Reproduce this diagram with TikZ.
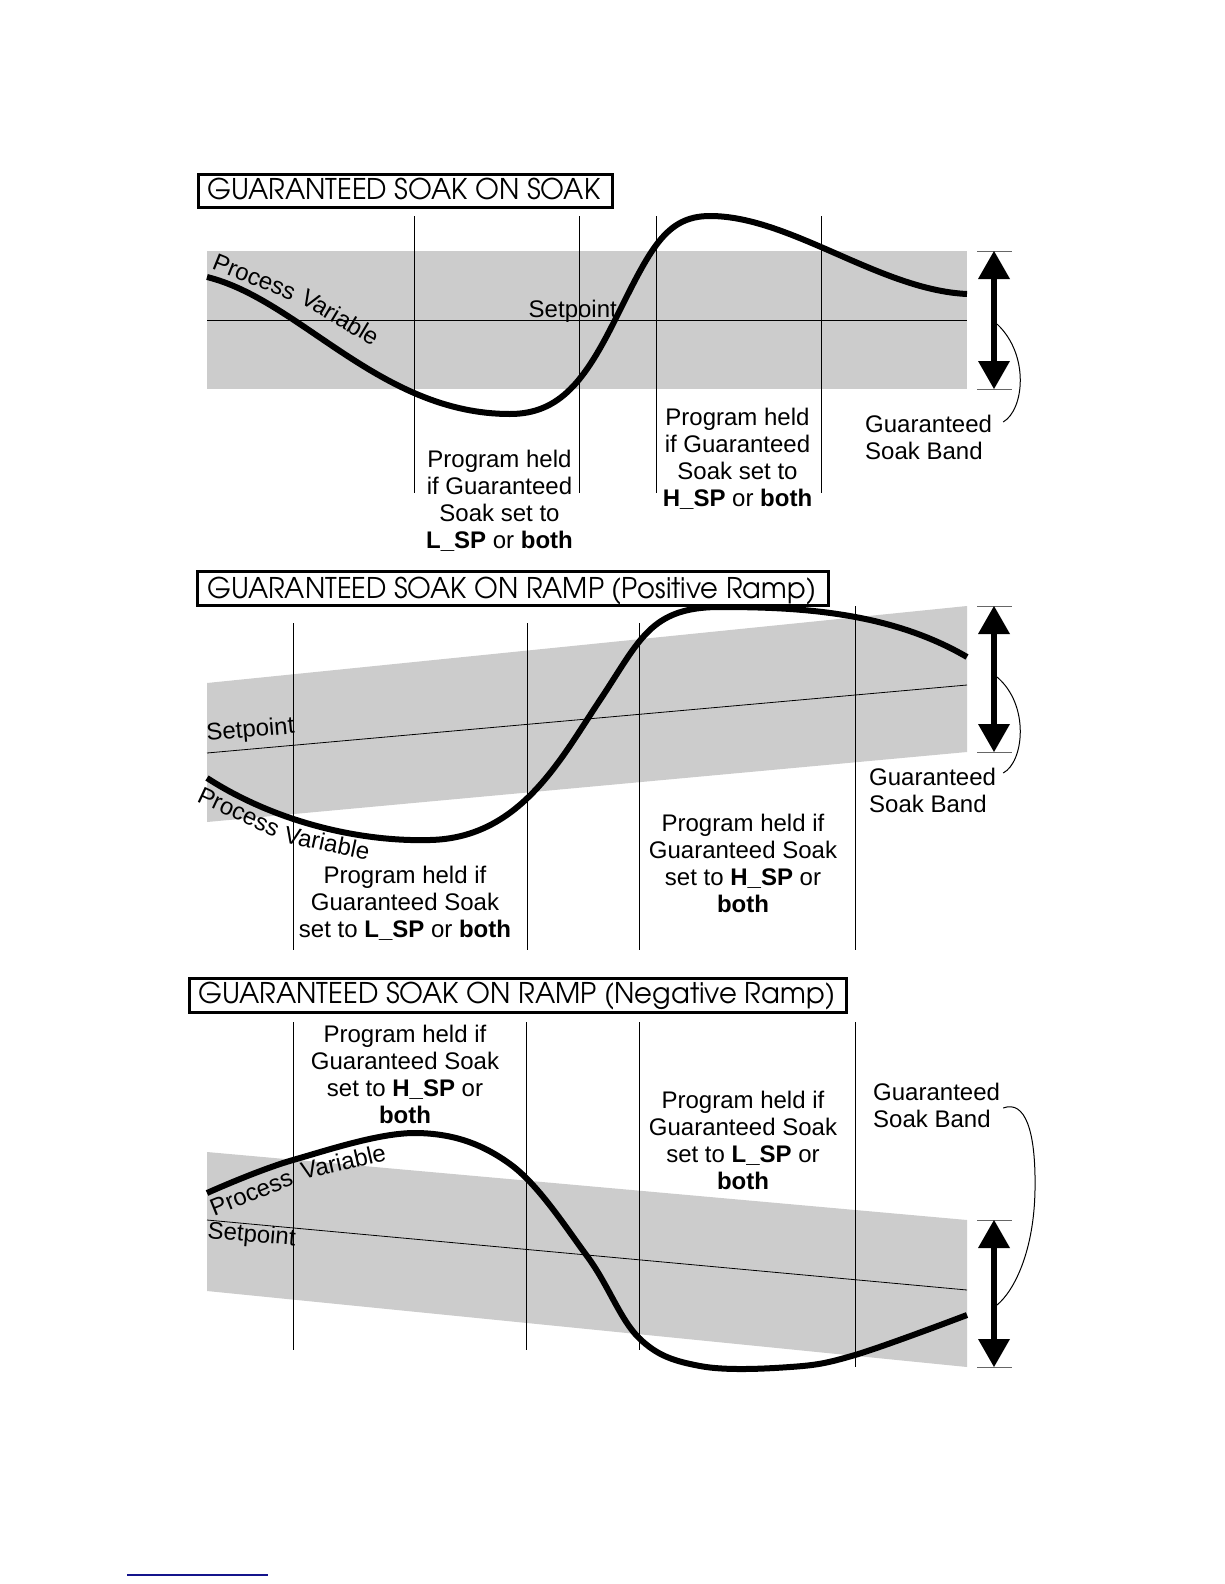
\documentclass[tikz,border=0pt]{standalone}
\usepackage{fontspec}
\usepackage{graphicx}
\setmainfont{Liberation Sans}
\newfontfamily\titlefont{texgyreadventor-regular.otf}
\usetikzlibrary{arrows.meta}
\definecolor{bandgray}{RGB}{204,204,204}
\definecolor{navyline}{RGB}{20,20,140}
\newcommand{\ttltext}[2]{\resizebox{#1}{\height}{\titlefont\fontsize{28.5}{30}\selectfont #2}}
\begin{document}
\begin{tikzpicture}[x=1pt,y=-1pt,
  band/.style={fill=bandgray, draw=none},
  spline/.style={line width=0.8pt},
  vline/.style={line width=0.8pt},
  pv/.style={line width=6pt},
  titlebox/.style={draw, line width=3pt},
  ttl/.style={inner sep=0pt, anchor=base west},
  lbl/.style={font=\fontsize{24}{27}\selectfont, inner sep=0pt, align=center, anchor=north},
  gsb/.style={font=\fontsize{24}{27}\selectfont, inner sep=0pt, align=left, anchor=north west},
  pvlbl/.style={font=\fontsize{24}{27}\selectfont, inner sep=0pt, anchor=base west},
  bandarrow/.style={line width=6pt, {Triangle[width=32pt,length=28pt,line width=0pt]}-{Triangle[width=32pt,length=28pt,line width=0pt]}},
  tickline/.style={line width=0.6pt, draw=black!60},
  leader/.style={line width=1pt},
]
\fill[white] (0,0) rectangle (1224,1584);
\useasboundingbox (0,0) rectangle (1224,1584);

% ================= Panel 1 =================
\fill[band] (207,251) rectangle (967,389);
\draw[spline] (207,320) -- (967,320);
\foreach \xx in {414,579,656,821} \draw[vline] (\xx,216) -- (\xx,493);
\draw[pv] (207,277) .. controls (300,300) and (380,414) .. (510,414)
  .. controls (560,414) and (585,380) .. (615,320)
  .. controls (650,250) and (665,216) .. (710,216)
  .. controls (790,216) and (880,290) .. (967,294);
\draw[titlebox] (198.5,174.5) rectangle (612.5,207.5);
\node[ttl] (t1) at (207,199) {\ttltext{393pt}{GUARANTEED SOAK ON SOAK}};
\node[pvlbl, rotate=-22] (pv1a) at (211,268) {Process};
\node[pvlbl, rotate=-31] (pv1b) at (299,302) {Variable};
\node[pvlbl, anchor=base east] (sp1) at (617,317) {Setpoint};
\node[lbl] (h1a) at (499.5,450) {Program held\\if Guaranteed\\Soak set to\\\textbf{L\_SP} or \textbf{both}};
\node[lbl] (h1b) at (737.5,408) {Program held\\if Guaranteed\\Soak set to\\\textbf{H\_SP} or \textbf{both}};
\node[gsb] (gsb1) at (865,415) {Guaranteed\\Soak Band};
\coordinate (a1t) at (994,251); \coordinate (a1b) at (994,389);
\draw[tickline] (977,251) -- (1012,251);
\draw[tickline] (977,389) -- (1012,389);
\draw[bandarrow] (a1t) -- (a1b);
\coordinate (s1) at (997,324);
\draw[leader] (gsb1.north east) ++(11,7) .. controls (1024,410) and (1030,355) .. (s1);

% ================= Panel 2 =================
\fill[band] (207,683) -- (967,606) -- (967,752) -- (207,822) -- cycle;
\draw[spline] (207,753) -- (967,685);
\foreach \xx in {293,527,639} \draw[vline] (\xx,623) -- (\xx,950);
\draw[vline] (855,606) -- (855,950);
\draw[pv] (207,778) .. controls (275,822) and (360,842) .. (430,840)
  .. controls (520,838) and (560,760) .. (600,700)
  .. controls (640,640) and (650,607) .. (720,607)
  .. controls (800,607) and (890,612) .. (967,657);
\draw[titlebox] (197.5,571.5) rectangle (828.5,605.5);
\node[ttl] (t2) at (207,598) {\ttltext{609pt}{GUARANTEED SOAK ON RAMP (Positive Ramp)}};
\node[pvlbl, rotate=5] (sp2) at (207,741) {Setpoint};
\node[pvlbl, rotate=-25] (pv2a) at (196,801) {Process};
\node[pvlbl, rotate=-12] (pv2b) at (283,842) {Variable};
\node[lbl] (h2a) at (405,866) {Program held if\\Guaranteed Soak\\set to \textbf{L\_SP} or \textbf{both}};
\node[lbl] (h2b) at (743,814) {Program held if\\Guaranteed Soak\\set to \textbf{H\_SP} or\\\textbf{both}};
\node[gsb] (gsb2) at (869,768) {Guaranteed\\Soak Band};
\coordinate (a2t) at (994,606); \coordinate (a2b) at (994,752);
\draw[tickline] (977,606) -- (1012,606);
\draw[tickline] (977,752) -- (1012,752);
\draw[bandarrow] (a2t) -- (a2b);
\coordinate (s2) at (997,677);
\draw[leader] (gsb2.north east) ++(7,5) .. controls (1024,762) and (1030,705) .. (s2);

% ================= Panel 3 =================
\fill[band] (207,1152) -- (967,1220) -- (967,1367) -- (207,1291) -- cycle;
\draw[spline] (207,1220) -- (967,1290);
\foreach \xx in {293,526,639} \draw[vline] (\xx,1022) -- (\xx,1350);
\draw[vline] (855,1022) -- (855,1367);
\draw[pv] plot[smooth, tension=0.6] coordinates {(207,1193) (293,1160) (417,1133) (510,1164) (587,1256) (639,1338) (700,1366) (790,1367) (855,1355) (967,1315)};
\draw[titlebox] (189.5,978.5) rectangle (846.5,1012.5);
\node[ttl] (t3) at (198,1003) {\ttltext{637pt}{GUARANTEED SOAK ON RAMP (Negative Ramp)}};
\node[pvlbl, rotate=-5] (sp3) at (207,1238) {Setpoint};
\node[pvlbl, rotate=22] (pv3a) at (214,1217) {Process};
\node[pvlbl, rotate=13] (pv3b) at (303,1180) {Variable};
\node[lbl] (h3a) at (405,1025) {Program held if\\Guaranteed Soak\\set to \textbf{H\_SP} or\\\textbf{both}};
\node[lbl] (h3b) at (743,1091) {Program held if\\Guaranteed Soak\\set to \textbf{L\_SP} or\\\textbf{both}};
\node[gsb] (gsb3) at (873,1083) {Guaranteed\\Soak Band};
\coordinate (a3t) at (994,1220); \coordinate (a3b) at (994,1367);
\draw[tickline] (977,1220) -- (1012,1220);
\draw[tickline] (977,1367) -- (1012,1367);
\draw[bandarrow] (a3t) -- (a3b);
\coordinate (s3) at (997,1305);
\draw[leader] (gsb3.north east) ++(3,25) .. controls (1025,1100) and (1036,1130) .. (1035,1190) .. controls (1034,1250) and (1015,1290) .. (s3);

% footer rule
\coordinate (f1) at (127,1575); \coordinate (f2) at (268,1575);
\draw[navyline, line width=1.5pt] (f1) -- (f2);
\end{tikzpicture}
\end{document}
